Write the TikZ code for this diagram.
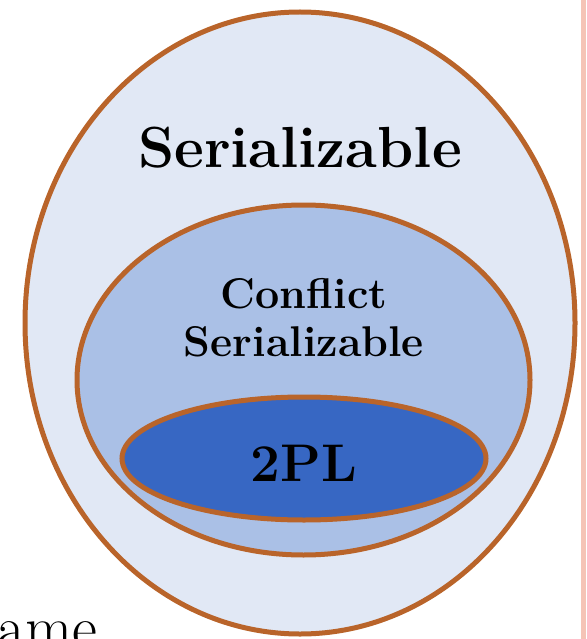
\documentclass[tikz,border=0pt]{standalone}
\usepackage{fontspec}
\definecolor{rim}{HTML}{B9642A}
\definecolor{serfill}{HTML}{E1E8F5}
\definecolor{cfill}{HTML}{AAC0E6}
\definecolor{plfill}{HTML}{3767C3}
\definecolor{strip}{HTML}{F5C4B6}
\tikzset{set/.style={line width=5pt, draw=rim}}
\begin{document}
\begin{tikzpicture}[x=1pt, y=-1pt]
  \useasboundingbox (0,0) rectangle (586,639);
  \clip (0,0) rectangle (586,639);
  \fill[strip] (581,0) rectangle (586,639);

  \filldraw[set, fill=serfill] (300,323) ellipse (275 and 311);
  \filldraw[set, fill=cfill] (303.5,380) ellipse (226.5 and 175);
  \filldraw[set, fill=plfill] (304,458.5) ellipse (182 and 61.5);

  \node (ser) at (300,148) {\fontsize{58}{60}\selectfont\bfseries Serializable};
  \node[align=center, font=\fontsize{43}{48}\selectfont\bfseries] (csr) at (304,318)
    {Conflict\\Serializable};
  \node (pl) at (304,463) {\fontsize{53}{55}\selectfont\bfseries 2PL};

  \node[anchor=base west, inner sep=0pt] (rest) at (-3,648) {\fontsize{61}{63}\selectfont ame};
\end{tikzpicture}
\end{document}
